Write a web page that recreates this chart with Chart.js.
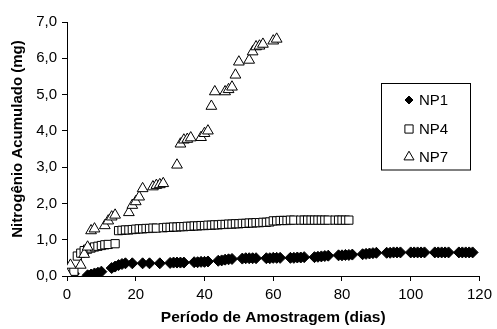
<!doctype html>
<html lang="pt">
<head>
<meta charset="utf-8">
<title>Nitrogênio Acumulado</title>
<script src="https://cdn.jsdelivr.net/npm/chart.js@4/dist/chart.umd.min.js"></script>
<style>
  html, body { margin: 0; padding: 0; background: #fff; }
  #wrap { width: 497px; height: 329px; }
</style>
</head>
<body>
<div id="wrap"><canvas id="chart" width="497" height="329"></canvas></div>
<script>
// days and accumulated N (mg)
var np1Days = [0, 1, 2, 6, 7, 8, 9, 10, 13, 14, 15, 16, 17, 19, 22, 24, 27,
  30, 31, 32, 33, 34, 37, 38, 39, 40, 41, 44, 45, 46, 47, 48, 51, 52, 53, 54, 55,
  58, 59, 60, 61, 62, 65, 66, 67, 68, 69, 72, 73, 74, 75, 76, 79, 80, 81, 82, 83,
  86, 87, 88, 89, 90, 93, 94, 95, 96, 97, 100, 101, 102, 103, 104,
  107, 108, 109, 110, 111, 114, 115, 116, 117, 118];
var np1Values = [0.06, 0.07, 0.06, 0.02, 0.04, 0.07, 0.09, 0.12, 0.22, 0.26, 0.30, 0.33, 0.35, 0.35, 0.35, 0.35, 0.35,
  0.36, 0.37, 0.37, 0.37, 0.37, 0.38, 0.38, 0.39, 0.39, 0.40, 0.42, 0.43, 0.45, 0.46, 0.47, 0.48, 0.49, 0.49, 0.49, 0.49,
  0.49, 0.49, 0.50, 0.50, 0.50, 0.50, 0.50, 0.51, 0.51, 0.52, 0.52, 0.53, 0.54, 0.55, 0.56, 0.57, 0.57, 0.58, 0.58, 0.59,
  0.60, 0.61, 0.62, 0.63, 0.64, 0.64, 0.64, 0.65, 0.65, 0.65, 0.65, 0.65, 0.65, 0.65, 0.65,
  0.65, 0.65, 0.65, 0.65, 0.65, 0.65, 0.65, 0.65, 0.65, 0.65];

var np4Days = [0, 1, 2, 3, 4, 5, 6, 7, 8, 9, 10, 11, 12, 14,
  15, 16, 17, 18, 19, 20, 21, 22, 23, 24, 25, 26,
  28, 29, 30, 31, 32, 33, 34, 35, 36, 37, 38,
  39, 40, 41, 42, 43, 44, 45, 46, 47, 48, 49, 50,
  51, 52, 53, 54, 55, 56, 57, 58, 59,
  60, 61, 62, 63, 64, 65, 66, 68, 69, 70, 71, 72, 73, 74, 75, 76, 78, 79, 80, 81, 82];
var np4Values = [0.10, 0.12, 0.13, 0.55, 0.63, 0.70, 0.74, 0.77, 0.80, 0.82, 0.84, 0.86, 0.87, 0.89,
  1.25, 1.26, 1.27, 1.27, 1.28, 1.29, 1.30, 1.30, 1.31, 1.31, 1.32, 1.32,
  1.33, 1.34, 1.34, 1.35, 1.35, 1.36, 1.36, 1.37, 1.37, 1.38, 1.38,
  1.39, 1.39, 1.40, 1.40, 1.41, 1.41, 1.42, 1.42, 1.43, 1.43, 1.44, 1.44,
  1.45, 1.45, 1.46, 1.46, 1.47, 1.47, 1.48, 1.48, 1.49,
  1.52, 1.52, 1.53, 1.53, 1.53, 1.54, 1.54, 1.54, 1.54, 1.54, 1.54, 1.54, 1.54, 1.54, 1.54, 1.54, 1.54, 1.54, 1.54, 1.54, 1.54];

var np7Days = [0, 1, 4, 5, 6, 7, 8, 11, 12, 13, 14, 18, 19, 20, 21, 22, 25, 26, 27, 28,
  32, 33, 34, 35, 36, 39, 40, 41, 42, 43, 46, 47, 48, 49, 50, 53, 54, 55, 56, 57, 60, 61];
var np7Values = [0.05, 0.30, 0.30, 0.60, 0.80, 1.25, 1.30, 1.39, 1.52, 1.63, 1.68, 1.75, 1.95, 2.05, 2.18, 2.41, 2.46, 2.50, 2.52, 2.55,
  3.06, 3.64, 3.75, 3.77, 3.81, 3.82, 3.93, 4.00, 4.68, 5.08, 5.08, 5.14, 5.21, 5.54, 5.90, 5.95, 6.18, 6.32, 6.34, 6.39, 6.48, 6.53];

var yTickLabels = ['0,0', '1,0', '2,0', '3,0', '4,0', '5,0', '6,0', '7,0'];
var xTickLabels = ['0', '20', '40', '60', '80', '100', '120'];

function pts(days, vals) {
  var out = [];
  for (var i = 0; i < days.length; i++) out.push({x: days[i], y: vals[i]});
  return out;
}

var FONT = 'Liberation Sans, Arial, sans-serif';

// legend box inside the plot + y title placed a bit above centre, like the original
var extras = {
  id: 'extras',
  afterDraw: function(chart) {
    var ctx = chart.ctx;
    ctx.save();
    ctx.strokeStyle = '#000';
    ctx.lineWidth = 1;
    ctx.strokeRect(381.5, 83.5, 89, 86.5);
    var rows = [100, 129, 157];
    var radii = [4, 5.8, 5.8];
    chart.data.datasets.forEach(function(ds, i) {
      ctx.fillStyle = ds.pointBackgroundColor;
      ctx.strokeStyle = '#000';
      ctx.lineWidth = 1;
      Chart.helpers.drawPoint(ctx, {
        pointStyle: ds.pointStyle, radius: radii[i], rotation: 0, borderWidth: 1
      }, 409, rows[i]);
      ctx.fillStyle = '#000';
      ctx.font = '15px ' + FONT;
      ctx.textBaseline = 'middle';
      ctx.textAlign = 'left';
      ctx.fillText(ds.label, 419, rows[i] + 1);
    });

    var yt = chart.options.scales.y.title;
    ctx.translate(18, 139);
    ctx.rotate(-Math.PI / 2);
    ctx.fillStyle = '#000';
    ctx.font = 'bold 15px ' + FONT;
    ctx.textAlign = 'center';
    ctx.textBaseline = 'middle';
    ctx.fillText(yt.text, 0, 0);
    ctx.restore();
  }
};

var CHART = document.getElementById('chart');
new Chart(CHART, {
  type: 'scatter',
  data: {
    datasets: [{
      label: 'NP1',
      data: pts(np1Days, np1Values),
      pointStyle: 'rectRot',
      pointRadius: 5.5,
      pointBackgroundColor: '#000',
      pointBorderColor: '#000',
      pointBorderWidth: 1,
      order: 3
    }, {
      label: 'NP4',
      data: pts(np4Days, np4Values),
      pointStyle: 'rect',
      pointRadius: 5.8,
      pointBackgroundColor: '#fff',
      pointBorderColor: '#000',
      pointBorderWidth: 1,
      order: 2
    }, {
      label: 'NP7',
      data: pts(np7Days, np7Values),
      pointStyle: 'triangle',
      pointRadius: 6.2,
      pointBackgroundColor: '#fff',
      pointBorderColor: '#000',
      pointBorderWidth: 1,
      order: 1
    }]
  },
  options: {
    responsive: false,
    animation: false,
    layout: { padding: { left: 0, right: 15, top: 22, bottom: 0 } },
    plugins: { legend: { display: false }, tooltip: { enabled: false } },
    scales: {
      x: {
        type: 'linear',
        min: 0, max: 120,
        afterFit: function(s) { s.height = 53; },
        border: { color: '#000', width: 1 },
        grid: { drawOnChartArea: false, color: '#000', tickLength: 5 },
        ticks: {
          stepSize: 20, color: '#000', padding: 5, maxRotation: 0,
          font: { family: FONT, size: 15 },
          callback: function(v) { return xTickLabels[v / 20]; }
        },
        title: {
          display: true, text: 'Período de Amostragem (dias)', color: '#000',
          font: { family: FONT, size: 15.5, weight: 'bold' },
          padding: { top: 0, bottom: 2 }
        }
      },
      y: {
        type: 'linear',
        min: 0, max: 7,
        afterFit: function(s) { s.width = 67; },
        border: { color: '#000', width: 1 },
        grid: { drawOnChartArea: false, color: '#000', tickLength: 5 },
        ticks: {
          stepSize: 1, color: '#000', padding: 5,
          font: { family: FONT, size: 15 },
          callback: function(v) { return yTickLabels[v]; }
        },
        // drawn by the extras plugin
        title: { display: false, text: 'Nitrogênio Acumulado (mg)' }
      }
    }
  },
  plugins: [extras]
});
</script>
</body>
</html>
